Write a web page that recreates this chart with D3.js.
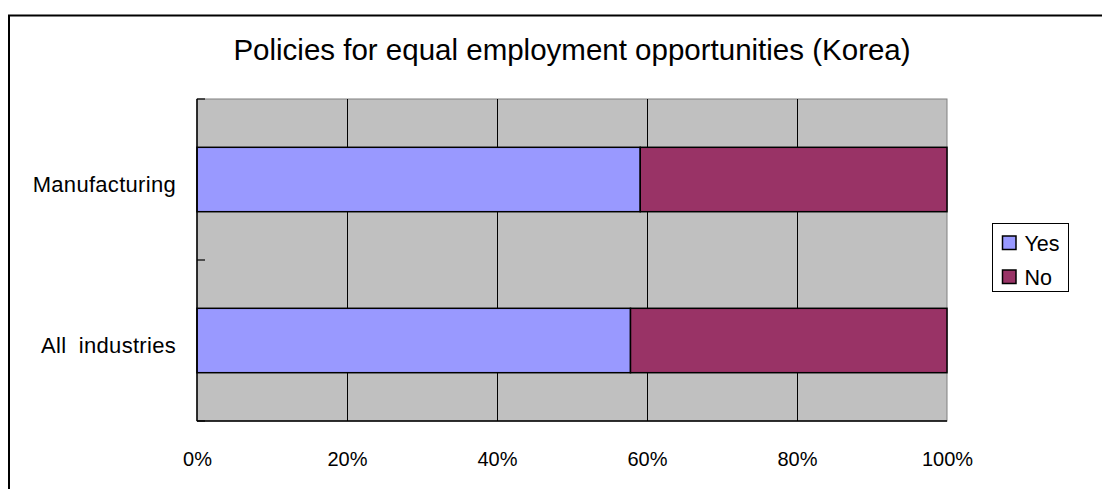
<!DOCTYPE html>
<html><head><meta charset="utf-8">
<script src="https://cdn.jsdelivr.net/npm/d3@7"></script>
<style>body{margin:0;background:#fff;} svg{display:block;font-family:"Liberation Sans",Arial,sans-serif;}</style>
</head><body>
<svg id="c" width="1102" height="489"></svg>
<script>
const title = "Policies for equal employment opportunities (Korea)";
const categories = ["Manufacturing", "All industries"];
const seriesNames = ["Yes", "No"];
const yesValues = [59.1, 57.8];
const noValues = [40.9, 42.2];
const xTicks = [0, 20, 40, 60, 80, 100];
const colors = ["#9999FF", "#993366"];

const svg = d3.select("#c");
// outer chart frame
svg.append("rect").attr("x", 9).attr("y", 15.5).attr("width", 1110).attr("height", 500)
  .attr("fill", "#fff").attr("stroke", "#000").attr("stroke-width", 2);

const L = 197, R = 947, T = 99, B = 421;
const x = d3.scaleLinear().domain([0, 100]).range([L, R]);
const y = d3.scaleBand().domain(categories).range([T, B]).paddingInner(0.6).paddingOuter(0.3);

svg.append("rect").attr("x", L).attr("y", T).attr("width", R - L).attr("height", B - T)
  .attr("fill", "#C0C0C0").attr("stroke", "#808080").attr("stroke-width", 1);

// vertical gridlines
svg.append("g").selectAll("line").data(xTicks.slice(1, -1)).join("line")
  .attr("x1", d => Math.round(x(d)) + 0.5).attr("x2", d => Math.round(x(d)) + 0.5)
  .attr("y1", T).attr("y2", B).attr("stroke", "#000").attr("stroke-width", 1);

// stacked bars
const data = categories.map((c, i) => ({cat: c, Yes: yesValues[i], No: noValues[i]}));
const stack = d3.stack().keys(seriesNames)(data);
svg.append("g").selectAll("g").data(stack).join("g").attr("fill", (d, i) => colors[i])
  .selectAll("rect").data(d => d).join("rect")
  .attr("x", d => x(d[0])).attr("width", d => x(d[1]) - x(d[0]))
  .attr("y", d => y(d.data.cat)).attr("height", y.bandwidth())
  .attr("stroke", "#000").attr("stroke-width", 1.5);

// axes lines
svg.append("line").attr("x1", L).attr("x2", L).attr("y1", T).attr("y2", B).attr("stroke", "#000").attr("stroke-width", 1.5);
svg.append("line").attr("x1", L).attr("x2", R).attr("y1", B).attr("y2", B).attr("stroke", "#000").attr("stroke-width", 1.5);
// category separators ticks (inside)
const sepY = [T, (T + B) / 2, B];
svg.append("g").selectAll("line").data(sepY).join("line")
  .attr("x1", L).attr("x2", L + 8).attr("y1", d => d).attr("y2", d => d)
  .attr("stroke", "#000").attr("stroke-width", 1.2);

// x tick labels
const xAxis = d3.axisBottom(x).tickValues(xTicks).tickFormat(d => d + "%").tickSize(0).tickPadding(0);
const gx = svg.append("g").attr("transform", `translate(0,${B})`).call(xAxis);
gx.select(".domain").remove();
gx.selectAll("text").attr("dy", null).attr("y", 45).attr("font-size", 20).attr("fill", "#000")
  .attr("font-family", "'Liberation Sans Narrow', 'Arial Narrow', sans-serif");

// category labels
const yAxis = d3.axisLeft(y).tickSize(0).tickPadding(21);
const gy = svg.append("g").attr("transform", `translate(${L},0)`).call(yAxis);
gy.select(".domain").remove();
gy.selectAll("text").attr("dy", "0.55em").attr("font-size", 22).attr("fill", "#000")
  .attr("letter-spacing", 0.3).attr("word-spacing", 6)
  .attr("font-family", "Liberation Sans, Arial, sans-serif");

// title
svg.append("text").attr("x", 572).attr("y", 60).attr("text-anchor", "middle")
  .attr("font-size", 29.5).attr("fill", "#000").text(title);

// legend
const lg = svg.append("g");
lg.append("rect").attr("x", 992.5).attr("y", 223.5).attr("width", 76).attr("height", 68)
  .attr("fill", "#fff").attr("stroke", "#000").attr("stroke-width", 1);
const items = lg.selectAll("g.it").data(seriesNames).join("g").attr("class", "it")
  .attr("transform", (d, i) => `translate(1002.5,${236 + i * 34})`);
items.append("rect").attr("width", 13.5).attr("height", 13.5).attr("fill", (d, i) => colors[i])
  .attr("stroke", "#000").attr("stroke-width", 1.5);
items.append("text").attr("x", 22).attr("y", 15).attr("font-size", 21.5).attr("fill", "#000").text(d => d);
</script>
</body></html>
